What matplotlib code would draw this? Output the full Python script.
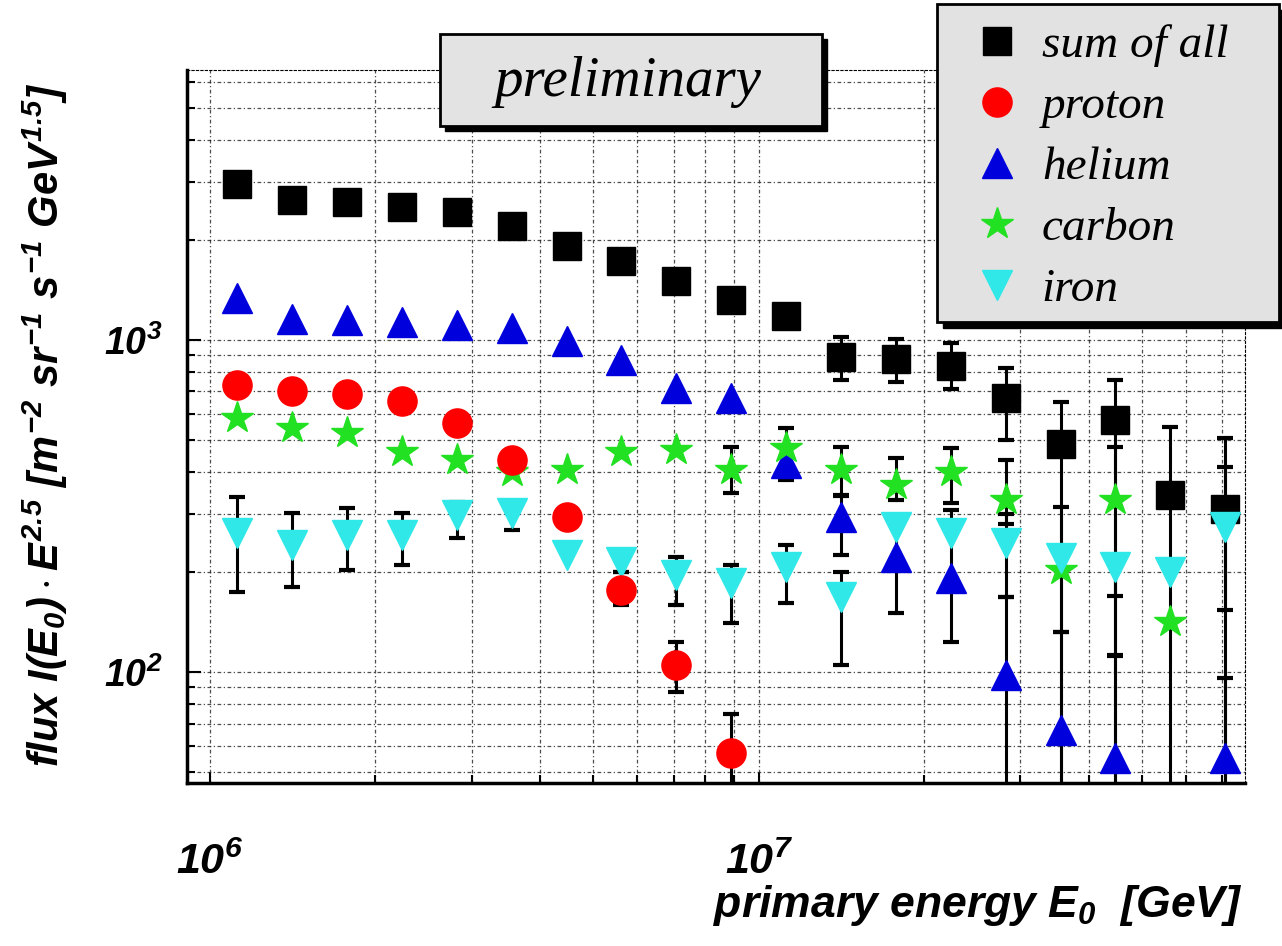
import matplotlib.pyplot as plt
from matplotlib.patches import Rectangle
from matplotlib.ticker import FixedLocator, LogLocator, NullFormatter

plt.rcParams['mathtext.fontset'] = 'custom'
plt.rcParams['mathtext.rm'] = 'Liberation Sans:style=italic:weight=bold'
plt.rcParams['mathtext.it'] = 'Liberation Sans:style=italic:weight=bold'
plt.rcParams['mathtext.bf'] = 'Liberation Sans:style=italic:weight=bold'

# energy bins (GeV)
energy = [1.12e6, 1.41e6, 1.78e6, 2.24e6, 2.82e6, 3.55e6, 4.47e6, 5.62e6, 7.08e6, 8.91e6,
          1.12e7, 1.41e7, 1.78e7, 2.24e7, 2.82e7, 3.55e7, 4.47e7, 5.62e7, 7.08e7]

# flux * E^2.5 values, None = not shown
sum_all = [2950, 2640, 2610, 2520, 2430, 2200, 1920, 1730, 1510, 1320,
           1180, 890, 877, 835, 668, 486, 574, 341, 310]
sum_lo = [None] * 11 + [758, 747, 711, 500, 30, 30, 30, 30]
sum_hi = [None] * 11 + [1021, 1007, 979, 823, 650, 758, 547, 507]

proton = [732, 701, 687, 655, 562, 436, 293, 177, 105, 57] + [None] * 9
proton_lo = [None] * 7 + [159, 87, 30] + [None] * 9
proton_hi = [None] * 7 + [200, 123, 75] + [None] * 9

helium = [1340, 1160, 1150, 1130, 1110, 1090, 993, 871, 717, 668,
          425, 293, 222, 192, 98, 67, 55, None, 55]
helium_lo = [None] * 11 + [225, 151, 123, 30, 30, 30, None, 30]
helium_hi = [None] * 11 + [340, 293, 307, 168, 132, 113, None, 96]

carbon = [582, 543, 525, 460, 436, 400, 406, 460, 466, 406,
          473, 406, 366, 400, 330, 203, 330, 142, None]
carbon_lo = [None] * 9 + [346, 380, 341, 330, 323, 280, 132, 170, None, None]
carbon_hi = [None] * 9 + [477, 543, 477, 441, 473, 436, 314, 477, None, None]

iron = [262, 241, 259, 259, 297, 301, 225, 215, 196, 185,
        207, 168, 273, 262, 245, 220, 207, 200, 273]
iron_lo = [174, 180, 203, 210, 254, 268, None, 200, 159, 141,
           162, 105, None, None, 168, None, 112, None, 154]
iron_hi = [336, 301, 312, 301, 325, 314, None, 230, 222, 210,
           241, 200, None, None, 300, None, None, None, 414]

fig = plt.figure(figsize=(12.82, 9.46), dpi=100)
ax = fig.add_axes([187 / 1282, 163 / 946, (1245 - 187) / 1282, (783 - 70) / 946])
ax.set_xscale('log')
ax.set_yscale('log')
ax.set_xlim(9.08e5, 7.7e7)
ax.set_ylim(46.4, 6500)


def draw_err(vals, lo, hi):
    for x, v, l, h in zip(energy, vals, lo, hi):
        if v is None or (l is None and h is None):
            continue
        a = l if l is not None else v
        b = h if h is not None else v
        ax.plot([x, x], [a, b], color='black', lw=2.2, zorder=2)
        for c in (l, h):
            if c is not None:
                ax.plot([x], [c], marker='_', ms=12, mew=3, color='black', zorder=2)


def draw_pts(vals, **kw):
    xs = [x for x, v in zip(energy, vals) if v is not None]
    ys = [v for v in vals if v is not None]
    return ax.plot(xs, ys, linestyle='none', zorder=3, **kw)[0]


for vals, lo, hi in [(sum_all, sum_lo, sum_hi), (helium, helium_lo, helium_hi),
                     (carbon, carbon_lo, carbon_hi), (iron, iron_lo, iron_hi),
                     (proton, proton_lo, proton_hi)]:
    draw_err(vals, lo, hi)

h_sum = draw_pts(sum_all, marker='s', ms=20, color='black', mec='black')
h_he = draw_pts(helium, marker='^', ms=21, color='#0000dd', mec='#0000dd')
h_c = draw_pts(carbon, marker='*', ms=24, color='#22e022', mec='#22e022')
h_fe = draw_pts(iron, marker='v', ms=21, color='#30e8e8', mec='#30e8e8')
h_p = draw_pts(proton, marker='o', ms=21, color='#ff0000', mec='#ff0000')

# axes styling
ax.xaxis.set_major_locator(FixedLocator([1e6, 1e7]))
ax.xaxis.set_minor_locator(LogLocator(base=10, subs=range(2, 10)))
ax.xaxis.set_minor_formatter(NullFormatter())
ax.set_xticklabels([r'$10^{6}$', r'$10^{7}$'], fontsize=31)
ax.yaxis.set_major_locator(FixedLocator([1e2, 1e3]))
ax.yaxis.set_minor_locator(LogLocator(base=10, subs=range(2, 10)))
ax.yaxis.set_minor_formatter(NullFormatter())
ax.set_yticklabels([r'$10^{2}$', r'$10^{3}$'], fontsize=27)
ax.tick_params(axis='x', which='both', direction='in', pad=42, length=8, width=1.5)
ax.tick_params(axis='y', which='both', direction='in', pad=18, length=10, width=1.5)
ax.tick_params(which='minor', length=6)
ax.grid(which='both', color='#222222', linestyle=(0, (3, 2, 1, 2)), lw=0.9, alpha=0.8)
ax.set_axisbelow(True)
for s in ('left', 'bottom'):
    ax.spines[s].set_linewidth(2.5)
for s in ('top', 'right'):
    ax.spines[s].set_linewidth(0.8)
    ax.spines[s].set_linestyle((0, (2, 2)))

fig.text(1243 / 1282, 1 - 905 / 946, r'primary energy $E_0$  [GeV]', ha='right', va='center',
         fontsize=32, family='Liberation Sans', weight='bold', style='italic')
fig.text(45 / 1282, 1 - 425 / 946,
         r'flux $I(E_0)\cdot E^{2.5}\ [m^{-2}\ sr^{-1}\ s^{-1}\ GeV^{1.5}]$',
         rotation=90, ha='center', va='center', fontsize=30,
         family='Liberation Sans', weight='bold', style='italic')

# "preliminary" box
fig.patches.append(Rectangle((445 / 1282, 1 - 131 / 946), 382 / 1282, 92 / 946,
                             transform=fig.transFigure, facecolor='black', edgecolor='black'))
fig.patches.append(Rectangle((440 / 1282, 1 - 126 / 946), 382 / 1282, 92 / 946,
                             transform=fig.transFigure, facecolor='#e3e3e3',
                             edgecolor='black', lw=2))
fig.text(628 / 1282, 1 - 82 / 946, 'preliminary', ha='center', va='center', fontsize=41,
         family='Liberation Serif', style='italic')

# legend box
fig.patches.append(Rectangle((943 / 1282, 1 - 328 / 946), 345 / 1282, 318 / 946,
                             transform=fig.transFigure, facecolor='black', edgecolor='black'))
fig.patches.append(Rectangle((937 / 1282, 1 - 322 / 946), 342 / 1282, 318 / 946,
                             transform=fig.transFigure, facecolor='#e2e2e2',
                             edgecolor='black', lw=2))
handles = [h_sum, h_p, h_he, h_c, h_fe]
labels = ['sum of all', 'proton', 'helium', 'carbon', 'iron']
fig.legend(handles, labels, loc='upper left', bbox_to_anchor=(945 / 1282, 1 + 4 / 946),
           frameon=False, prop={'family': 'Liberation Serif', 'style': 'italic', 'size': 34},
           handlelength=1.0, handletextpad=0.45, labelspacing=0.38, borderpad=0.1)

plt.savefig('out.png', dpi=100)
